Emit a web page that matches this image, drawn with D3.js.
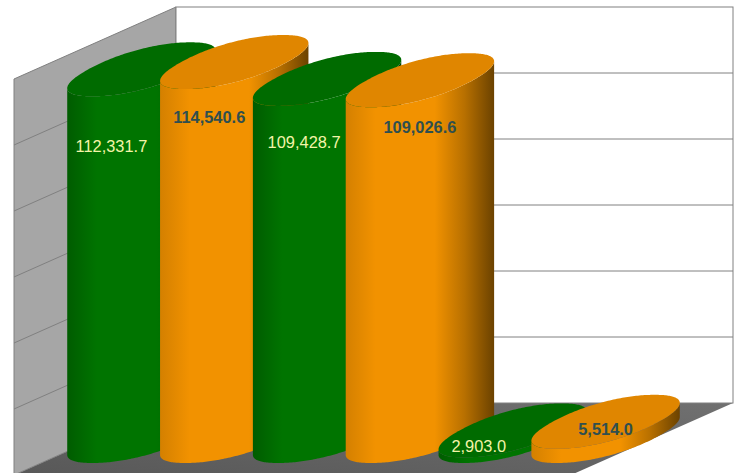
<!DOCTYPE html>
<html>
<head>
<meta charset="utf-8">
<script src="https://d3js.org/d3.v7.min.js"></script>
<style>
  html, body { margin: 0; padding: 0; background: #fff; overflow: hidden; }
  svg { display: block; }
</style>
</head>
<body>
<div id="chart"></div>
<script>
const categories = ["A1", "A2", "B1", "B2", "C1", "C2"];
const values = [112331.7, 114540.6, 109428.7, 109026.6, 2903.0, 5514.0];
const valueLabels = ["112,331.7", "114,540.6", "109,428.7", "109,026.6", "2,903.0", "5,514.0"];
const seriesNames = ["green", "orange", "green", "orange", "green", "orange"];
const tickValues = [0, 20000, 40000, 60000, 80000, 100000, 120000];

const width = 738, height = 473;
// back wall corners, and the shift from back to front of the box
const wall = { left: 176, right: 733, top: 7, bottom: 403 };
const depth = { x: -162, y: 72 };
const base = 436; // y of the cylinder base centre
const rx = 53, skewX = 49, ry = 27, squareness = 0.92;

// where each value label sits, relative to its cylinder top
const labelNudge = [[-30, 83], [-25, 61], [-23, 69], [0, 53], [-34, 22], [0, 13]];

const styles = {
  green: { top: "#006b00", stops: ["#005c00", "#007400", "#007400", "#005e00", "#003c00"], label: "#f4f4a8", weight: "normal" },
  orange: { top: "#e08600", stops: ["#d48000", "#f29200", "#f29200", "#b87000", "#6b4200"], label: "#2f4f4f", weight: "bold" },
};

const svg = d3.select("#chart").append("svg").attr("width", width).attr("height", height);

const x = d3.scaleBand().domain(categories)
  .range([wall.left + depth.x / 2, wall.right + depth.x / 2]);
const gridY = d3.scaleLinear().domain([0, 120000]).range([wall.bottom, wall.top]);
const barY = d3.scaleLinear().domain([0, 120000]).range([440, 44]);

// gradients for cylinder sides
const defs = svg.append("defs");
Object.keys(styles).forEach(function (k) {
  const g = defs.append("linearGradient").attr("id", "side-" + k);
  [0, 0.2, 0.6, 0.8, 1].forEach(function (o, i) {
    g.append("stop").attr("offset", o).attr("stop-color", styles[k].stops[i]);
  });
});
const floorGrad = defs.append("linearGradient").attr("id", "floor")
  .attr("x1", 1).attr("y1", 0).attr("x2", 0).attr("y2", 1);
floorGrad.append("stop").attr("offset", 0).attr("stop-color", "#707070");
floorGrad.append("stop").attr("offset", 1).attr("stop-color", "#585858");

// box
const poly = (pts) => pts.map((p) => p.join(",")).join(" ");
svg.append("polygon")
  .attr("points", poly([[wall.left, wall.bottom], [wall.right, wall.bottom],
    [wall.right + depth.x, wall.bottom + depth.y], [wall.left + depth.x, wall.bottom + depth.y]]))
  .attr("fill", "url(#floor)");
svg.append("polygon")
  .attr("points", poly([[wall.left, wall.top], [wall.left, wall.bottom],
    [wall.left + depth.x, wall.bottom + depth.y], [wall.left + depth.x, wall.top + depth.y]]))
  .attr("fill", "#a6a6a6")
  .attr("stroke", "#808080");
svg.append("rect")
  .attr("x", wall.left).attr("y", wall.top)
  .attr("width", wall.right - wall.left).attr("height", wall.bottom - wall.top)
  .attr("fill", "#fff").attr("stroke", "#808080");

// gridlines on back and side wall
svg.selectAll("line.back").data(tickValues.slice(1, -1)).join("line")
  .attr("class", "back")
  .attr("x1", wall.left).attr("x2", wall.right)
  .attr("y1", (d) => gridY(d)).attr("y2", (d) => gridY(d))
  .attr("stroke", "#808080");
svg.selectAll("line.side").data(tickValues.slice(1, -1)).join("line")
  .attr("class", "side")
  .attr("x1", wall.left).attr("x2", wall.left + depth.x)
  .attr("y1", (d) => gridY(d)).attr("y2", (d) => gridY(d) + depth.y)
  .attr("stroke", "#808080");

// rim of a cylinder: a slightly squared ellipse in the skewed floor plane
const pow = (v) => Math.sign(v) * Math.pow(Math.abs(v), squareness);
function rimPoint(cx, cy, t) {
  const c = pow(Math.cos(t)), s = pow(Math.sin(t));
  return [cx + rx * c + skewX * s, cy - ry * s];
}
const rimAngles = d3.range(0, 240).map((i) => (i / 240) * 2 * Math.PI);
const tRight = d3.greatest(rimAngles, (t) => rimPoint(0, 0, t)[0]);

function sidePath(cx, topY) {
  const pts = [];
  // top rim from right extreme to left extreme, along the front
  d3.range(0, 121).forEach(function (i) {
    pts.push(rimPoint(cx, topY, tRight - (i / 120) * Math.PI));
  });
  // bottom rim from left extreme to right extreme
  d3.range(0, 121).forEach(function (i) {
    pts.push(rimPoint(cx, base, tRight - Math.PI + (i / 120) * Math.PI));
  });
  return d3.line()(pts) + "Z";
}
function topPath(cx, topY) {
  return d3.line()(rimAngles.map((t) => rimPoint(cx, topY, t))) + "Z";
}

// Cylinders
const bars = svg.selectAll("g.bar").data(categories).join("g").attr("class", "bar");
bars.append("path")
  .attr("d", (d, i) => sidePath(x(d) + x.bandwidth() / 2, barY(values[i])))
  .attr("fill", (d, i) => "url(#side-" + seriesNames[i] + ")");
bars.append("path")
  .attr("d", (d, i) => topPath(x(d) + x.bandwidth() / 2, barY(values[i])))
  .attr("fill", (d, i) => styles[seriesNames[i]].top);

// value labels
svg.selectAll("text.val").data(categories).join("text")
  .attr("class", "val")
  .attr("x", (d, i) => x(d) + x.bandwidth() / 2 + labelNudge[i][0])
  .attr("y", (d, i) => barY(values[i]) + labelNudge[i][1])
  .attr("text-anchor", "middle")
  .attr("font-family", "'Liberation Sans', Arial, sans-serif")
  .attr("font-size", 16.4)
  .attr("font-weight", (d, i) => styles[seriesNames[i]].weight)
  .attr("fill", (d, i) => styles[seriesNames[i]].label)
  .text((d, i) => valueLabels[i]);
</script>
</body>
</html>
